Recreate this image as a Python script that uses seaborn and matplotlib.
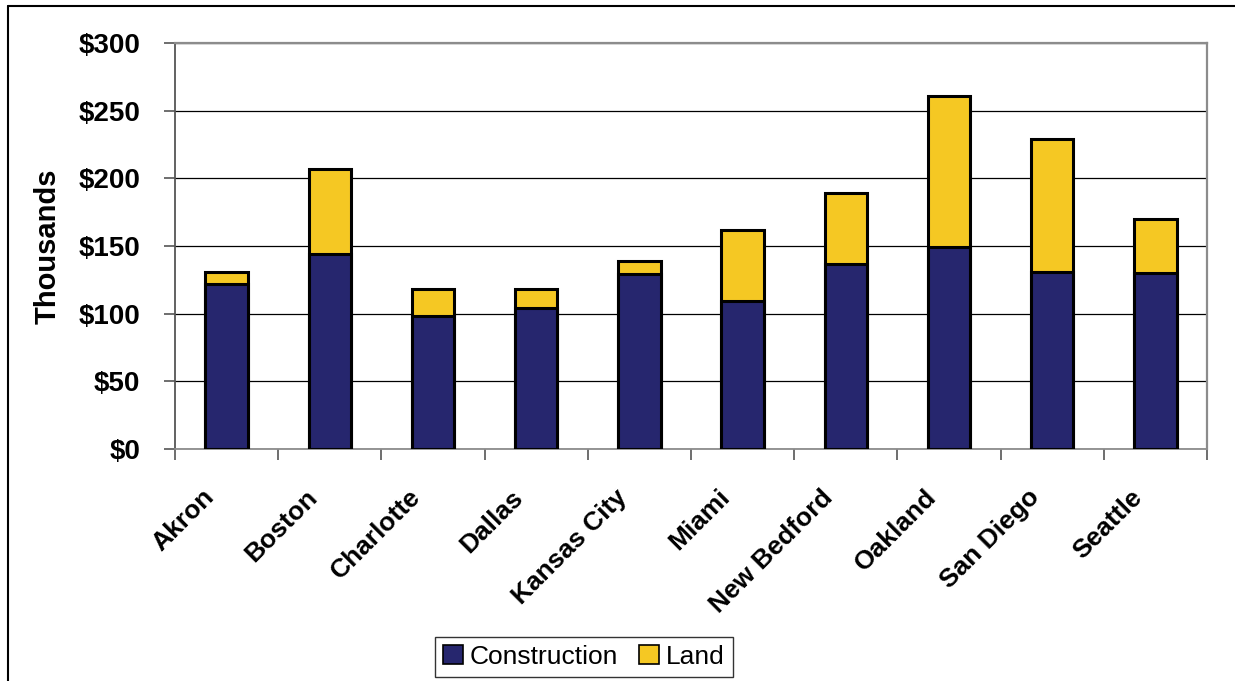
import matplotlib
matplotlib.use("Agg")
import matplotlib.pyplot as plt
from matplotlib.lines import Line2D
from matplotlib.patches import Patch
from matplotlib.ticker import FixedLocator, FuncFormatter
from matplotlib.transforms import ScaledTranslation
import pandas as pd
import seaborn as sns

cities = ["Akron", "Boston", "Charlotte", "Dallas", "Kansas City", "Miami",
          "New Bedford", "Oakland", "San Diego", "Seattle"]
construction = [122, 144, 98, 104, 129, 109, 137, 149, 131, 130]
land = [9, 63, 20, 14, 10, 53, 52, 112, 98, 40]
y_ticks = [0, 50, 100, 150, 200, 250, 300]

NAVY = "#26266E"
GOLD = "#F5C823"

df = pd.DataFrame({"city": cities, "Construction": construction, "Land": land})
df["Total"] = df["Construction"] + df["Land"]

sns.set_style("white")
plt.rcParams["font.family"] = ["Liberation Sans", "DejaVu Sans"]
plt.rcParams["text.color"] = "black"
plt.rcParams["axes.labelcolor"] = "black"
plt.rcParams["xtick.labelcolor"] = "black"
plt.rcParams["ytick.labelcolor"] = "black"

W, H = 1235, 681
fig = plt.figure(figsize=(W / 100, H / 100), dpi=100)
ax = fig.add_axes([175 / W, 1 - 449 / H, (1207 - 175) / W, (449 - 43) / H])

# stacked bars: full height in gold, construction share drawn over it in navy
sns.barplot(data=df, x="city", y="Total", color=GOLD, width=0.41,
            edgecolor="black", linewidth=2.2, saturation=1, ax=ax, zorder=3)
sns.barplot(data=df, x="city", y="Construction", color=NAVY, width=0.41,
            edgecolor="black", linewidth=2.2, saturation=1, ax=ax, zorder=4)

ax.set_xlim(-0.5, len(cities) - 0.5)
ax.set_ylim(0, 300)
ax.set_yticks(y_ticks)
ax.yaxis.set_major_formatter(FuncFormatter(lambda v, p: f"${v:.0f}"))
ax.grid(axis="y", color="black", linewidth=0.9, zorder=0)
ax.set_axisbelow(True)

for s in ["top", "right"]:
    ax.spines[s].set_color("#8c8c8c")
    ax.spines[s].set_linewidth(1.6)
ax.spines["left"].set_color("#555555")
ax.spines["left"].set_linewidth(1.3)
ax.spines["bottom"].set_color("#8c8c8c")
ax.spines["bottom"].set_linewidth(1.3)

ax.tick_params(axis="y", direction="out", length=8, width=1.2, color="#555555",
               labelsize=20, pad=17, left=True, labelcolor="black")
for t in ax.get_yticklabels():
    t.set_fontweight("bold")

# x tick marks sit between categories; labels sit under the bars
ax.xaxis.set_minor_locator(FixedLocator([i - 0.5 for i in range(len(cities) + 1)]))
ax.tick_params(axis="x", which="minor", direction="out", length=8, width=1.2,
               color="#555555", bottom=True)
ax.tick_params(axis="x", which="major", length=0, pad=26, labelsize=19,
               labelcolor="black")
ax.set_xticks(range(len(cities)))
ax.set_xticklabels(cities, rotation=45, ha="right", va="top", rotation_mode="anchor",
                   fontweight="bold", fontsize=19, color="black")
shift = ScaledTranslation(-25 / 100, 0, fig.dpi_scale_trans)
for t in ax.get_xticklabels():
    t.set_transform(t.get_transform() + shift)
ax.set_xlabel("")
ax.set_ylabel("Thousands", fontsize=21, fontweight="bold", labelpad=12, color="black")

handles = [Patch(facecolor=NAVY, edgecolor="black", linewidth=1.2),
           Patch(facecolor=GOLD, edgecolor="black", linewidth=1.2)]
leg = fig.legend(handles, ["Construction", "Land"], loc="center",
                 bbox_to_anchor=(584 / W, 1 - 657 / H), ncol=2, frameon=True,
                 fancybox=False, edgecolor="black", fontsize=19,
                 handlelength=0.75, handleheight=0.75, handletextpad=0.25,
                 columnspacing=0.8, borderpad=0.32, borderaxespad=0)
leg.get_frame().set_linewidth(1.0)
for t in leg.get_texts():
    t.set_color("black")

# chart-area border along the top and left edges
fig.add_artist(Line2D([8 / W, 1.0], [1 - 6 / H, 1 - 6 / H], color="black", linewidth=1.5))
fig.add_artist(Line2D([8 / W, 8 / W], [0.0, 1 - 6 / H], color="black", linewidth=1.5))

fig.savefig("out.png", dpi=100, facecolor="white")
